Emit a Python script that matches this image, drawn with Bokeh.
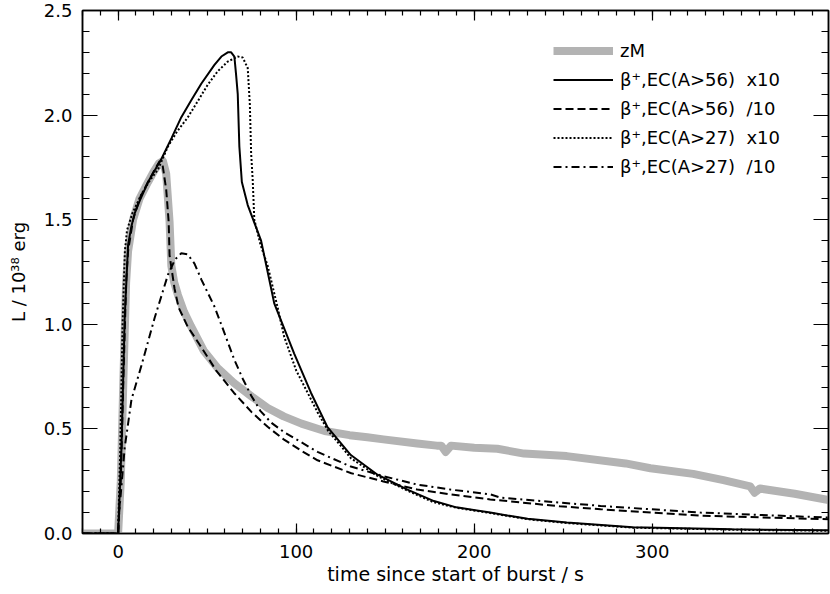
from bokeh.plotting import figure
from bokeh.models import (LinearAxis, FixedTicker, NumeralTickFormatter, Legend,
                          LegendItem, Range1d)
from bokeh.embed import file_html
from bokeh.resources import INLINE

# zM (grey thick curve)
t_zm = [-20, 0, 1.5, 3, 4.5, 5.6, 8.4, 12, 16.8, 20, 23, 25.2, 27, 28.9, 29.9, 31.5,
        33.6, 37, 41, 48, 56, 65, 75, 84, 93, 103, 116, 130, 140, 149, 168, 179,
        181.5, 184, 187, 200, 213, 228, 252, 285, 299, 323, 340, 355, 357.5, 360.5,
        380, 399]
L_zm = [0, 0, 0.25, 0.75, 1.2, 1.35, 1.5, 1.6, 1.68, 1.73, 1.77, 1.78, 1.72, 1.49, 1.28, 1.2,
        1.14, 1.06, 0.99, 0.875, 0.79, 0.72, 0.655, 0.6, 0.56, 0.525, 0.49, 0.47, 0.46, 0.45, 0.43, 0.42,
        0.42, 0.39, 0.42, 0.41, 0.405, 0.382, 0.37, 0.335, 0.312, 0.285, 0.255, 0.225, 0.195, 0.215,
        0.19, 0.16]

# beta+, EC(A>56) x10 (solid)
t_s56x = [-20, 0, 1.9, 3.7, 5.6, 7.5, 9.3, 12.1, 16.8, 24.3, 30, 35.5, 41, 46.7, 54.1, 58,
          61.6, 63.5, 65.3, 66.3, 67.2, 68.1, 69.5, 72.8, 80.3, 87.7, 98.9, 108.3, 117.6,
          130.7, 145.7, 162.5, 177.4, 190, 209, 230, 252, 289, 345, 399]
L_s56x = [0, 0, 0.41, 1.03, 1.38, 1.47, 1.53, 1.59, 1.68, 1.79, 1.89, 1.99, 2.07, 2.15, 2.24, 2.28,
          2.30, 2.30, 2.28, 2.19, 2.1, 1.85, 1.68, 1.57, 1.40, 1.10, 0.86, 0.673, 0.508,
          0.375, 0.281, 0.21, 0.155, 0.125, 0.10, 0.07, 0.053, 0.03, 0.02, 0.015]

# beta+, EC(A>56) /10 (dashed)
t_s56d = [-20, 0, 1.5, 3, 4.5, 5.6, 8.4, 12, 16.8, 20, 23.3, 25, 27, 28.4, 28.9, 31.7, 34,
          39, 46, 55, 65, 75, 84, 93, 103, 112, 131, 149, 168, 187, 209, 248, 271, 327, 399]
L_s56d = [0, 0, 0.25, 0.75, 1.2, 1.35, 1.5, 1.6, 1.68, 1.73, 1.78, 1.76, 1.645, 1.49, 1.33, 1.17, 1.08,
          0.99, 0.9, 0.78, 0.673, 0.58, 0.51, 0.45, 0.395, 0.35, 0.288, 0.249, 0.21, 0.187, 0.163,
          0.13, 0.116, 0.085, 0.068]

# beta+, EC(A>27) x10 (dotted)
t_s27x = [-20, 0, 1.2, 2.5, 3.8, 5, 8, 13, 18, 22.4, 28, 33, 39.2, 45, 50.4, 56, 61.6, 67.2,
          70, 72.8, 74, 74.7, 75.6, 76.5, 80, 84, 89.6, 93.3, 100, 112, 118, 125, 130.7,
          145.7, 162.5, 177, 190, 209, 230, 252, 289, 345, 399]
L_s27x = [0, 0, 0.4, 1.0, 1.35, 1.45, 1.53, 1.62, 1.69, 1.74, 1.85, 1.92, 1.99, 2.07, 2.146, 2.21, 2.256, 2.28,
          2.275, 2.225, 2.05, 1.82, 1.69, 1.50, 1.38, 1.28, 1.08, 0.94, 0.78, 0.58, 0.49, 0.42, 0.36,
          0.275, 0.205, 0.15, 0.123, 0.098, 0.068, 0.05, 0.028, 0.018, 0.013]

# beta+, EC(A>27) /10 (dash-dot)
t_s27d = [-20, 0, 0.5, 3.7, 7.5, 13, 20.5, 28, 32, 35.5, 39, 42.9, 46.7, 50.4, 54.1, 57.9, 61.6,
          65.3, 70, 74.7, 80, 86, 93.3, 102.7, 112, 130.7, 149.4, 168, 186.7, 209, 215, 271, 327, 399]
L_s27d = [0, 0, 0.09, 0.41, 0.64, 0.80, 1.03, 1.237, 1.31, 1.34, 1.335, 1.29, 1.215, 1.15, 1.085, 1.0, 0.915,
          0.83, 0.74, 0.66, 0.585, 0.53, 0.484, 0.437, 0.39, 0.32, 0.273, 0.234, 0.21, 0.187, 0.171,
          0.132, 0.10, 0.076]

legend_labels = ["zM", "β⁺,EC(A>56)  x10", "β⁺,EC(A>56)  /10",
                 "β⁺,EC(A>27)  x10", "β⁺,EC(A>27)  /10"]
x_major = [0, 100, 200, 300]
x_minor = list(range(-20, 400, 10))
y_major = [0.0, 0.5, 1.0, 1.5, 2.0, 2.5]
y_minor = [round(0.1 * i, 1) for i in range(0, 26)]

FONT = "DejaVu Sans"
FS = "18px"

p = figure(width=830, height=594, output_backend="svg", toolbar_location=None,
           x_range=Range1d(-20, 399), y_range=Range1d(0, 2.5),
           min_border_left=82, min_border_right=2, min_border_top=10, min_border_bottom=61,
           background_fill_color="white", border_fill_color="white")
p.xgrid.visible = False
p.ygrid.visible = False
p.outline_line_color = "black"
p.outline_line_width = 1.5

r_zm = p.line(t_zm, L_zm, line_color="#b3b3b3", line_width=8, line_join="round")
r1 = p.line(t_s56x, L_s56x, line_color="black", line_width=2)
r2 = p.line(t_s56d, L_s56d, line_color="black", line_width=2, line_dash="8 4")
r3 = p.line(t_s27x, L_s27x, line_color="black", line_width=2, line_dash="2 2")
r4 = p.line(t_s27d, L_s27d, line_color="black", line_width=2, line_dash="8 4 2 4")


def style_axis(ax, major_in, minor_in, show_labels):
    ax.major_tick_in = major_in
    ax.major_tick_out = 0
    ax.minor_tick_in = minor_in
    ax.minor_tick_out = 0
    ax.axis_line_color = "black"
    ax.axis_line_width = 1.5
    ax.major_tick_line_color = "black"
    ax.minor_tick_line_color = "black"
    ax.major_tick_line_width = 1.2
    ax.minor_tick_line_width = 1.2
    ax.major_label_text_font = FONT
    ax.major_label_text_font_size = FS
    ax.major_label_text_color = "black" if show_labels else None


xa = p.xaxis[0]
xa.ticker = FixedTicker(ticks=x_major, minor_ticks=x_minor)
style_axis(xa, 10, 5, True)
xa.major_label_standoff = 11
xa.axis_label = "time since start of burst / s"
xa.axis_label_text_font = FONT
xa.axis_label_text_font_size = "19px"
xa.axis_label_text_font_style = "normal"
xa.axis_label_text_color = "black"
xa.axis_label_standoff = 2

ya = p.yaxis[0]
ya.ticker = FixedTicker(ticks=y_major, minor_ticks=y_minor)
ya.formatter = NumeralTickFormatter(format="0.0")
style_axis(ya, 15, 7, True)
ya.major_label_standoff = 10
ya.axis_label = "L / 10³⁸ erg"
ya.axis_label_text_font = FONT
ya.axis_label_text_font_size = FS
ya.axis_label_text_font_style = "normal"
ya.axis_label_text_color = "black"
ya.axis_label_standoff = 12

top = LinearAxis(ticker=FixedTicker(ticks=x_major, minor_ticks=x_minor))
style_axis(top, 10, 5, False)
p.add_layout(top, "above")
right = LinearAxis(ticker=FixedTicker(ticks=y_major, minor_ticks=y_minor))
style_axis(right, 15, 7, False)
p.add_layout(right, "right")

legend = Legend(items=[LegendItem(label=lab, renderers=[r])
                       for lab, r in zip(legend_labels, [r_zm, r1, r2, r3, r4])],
                location=(471, 356), padding=0, margin=0, spacing=8,
                glyph_width=60, glyph_height=21, label_height=21, label_standoff=7,
                border_line_color=None, background_fill_alpha=0,
                label_text_font=FONT, label_text_font_size=FS, label_text_color="black")
p.add_layout(legend, "center")

open("out.html", "w").write(file_html(p, INLINE))
